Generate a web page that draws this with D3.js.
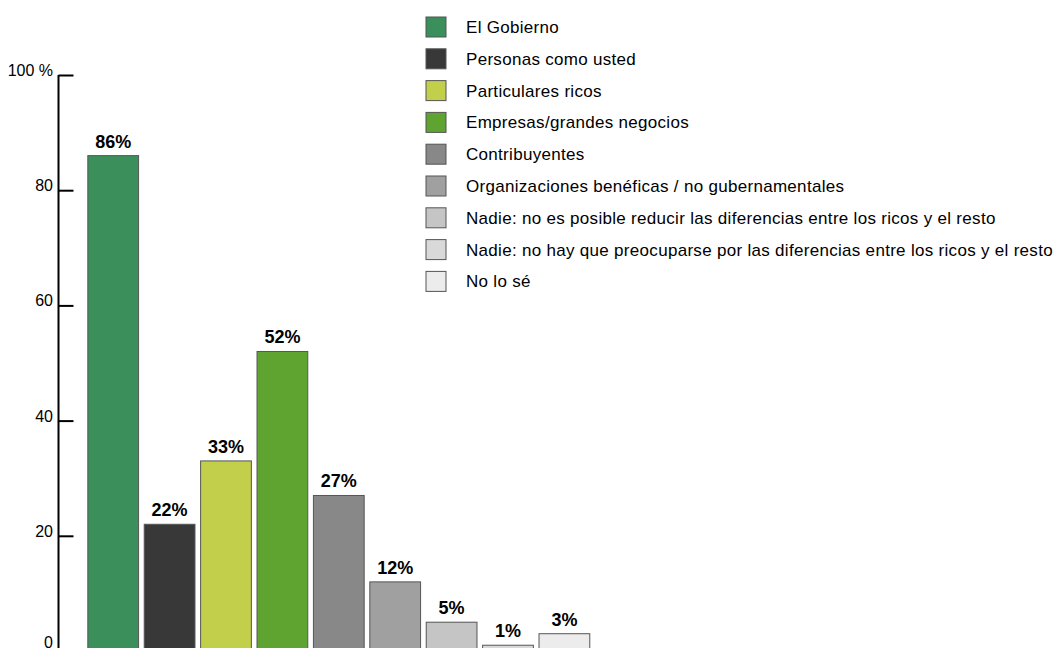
<!DOCTYPE html>
<html>
<head>
<meta charset="utf-8">
<script src="https://cdn.jsdelivr.net/npm/d3@7"></script>
<style>
  body { margin: 0; background: #fff; }
  text { font-family: "Liberation Sans", Arial, sans-serif; }
</style>
</head>
<body>
<svg id="chart" width="1063" height="648"></svg>
<script>
// categorias y valores (%)
var categorias = ["El Gobierno", "Personas como usted", "Particulares ricos",
  "Empresas/grandes negocios", "Contribuyentes",
  "Organizaciones benéficas / no gubernamentales",
  "Nadie: no es posible reducir las diferencias entre los ricos y el resto",
  "Nadie: no hay que preocuparse por las diferencias entre los ricos y el resto",
  "No lo sé"];
var valores = [86, 22, 33, 52, 27, 12, 5, 1, 3];
var colores = ["#3a8f5a", "#383838", "#c2cf4a", "#5fa431", "#888888",
  "#a0a0a0", "#c5c5c5", "#d9d9d9", "#ececec"];
var ticks = [0, 20, 40, 60, 80, 100];

var svg = d3.select("#chart");

var y = d3.scaleLinear().domain([0, 100]).range([651, 75]);
var x = d3.scaleBand().domain(d3.range(valores.length))
  .range([85, 85 + 56.4 * valores.length]).paddingInner(0.1).paddingOuter(0.05);

// eje y, ticks hacia dentro
var eje = svg.append("g").attr("transform", "translate(58.5,0)")
  .call(d3.axisRight(y).tickValues(ticks).tickSize(15).tickFormat(""));
eje.select(".domain").attr("stroke", "#000").attr("stroke-width", 2)
  .attr("d", "M0," + y(100) + "V660");
eje.selectAll(".tick line").attr("stroke", "#000").attr("stroke-width", 2);

svg.selectAll(".ylab").data(ticks).enter().append("text")
  .attr("class", "ylab")
  .attr("x", 53).attr("y", function(d){ return d == 0 ? 648 : y(d) + 1; })
  .attr("text-anchor", "end")
  .style("font-size", "16px")
  .text(function(d){ return d == 100 ? "100 %" : d; });

// barras
svg.selectAll("rect.barra").data(valores).enter().append("rect")
  .attr("class", "barra")
  .attr("x", function(d, i){ return x(i); })
  .attr("y", function(d){ return y(d); })
  .attr("width", x.bandwidth())
  .attr("height", function(d){ return y(0) - y(d); })
  .style("fill", function(d, i){ return colores[i]; })
  .style("stroke", "#555").style("stroke-width", 1);

svg.selectAll("text.valor").data(valores).enter().append("text")
  .attr("class", "valor")
  .attr("x", function(d, i){ return x(i) + x.bandwidth() / 2; })
  .attr("y", function(d){ return y(d) - 8; })
  .attr("text-anchor", "middle")
  .style("font-size", "18px").style("font-weight", "bold")
  .text(function(d){ return d + "%"; });

// leyenda
var ley = svg.selectAll("g.ley").data(categorias).enter().append("g")
  .attr("class", "ley")
  .attr("transform", function(d, i){ return "translate(426," + (17 + i * 31.8) + ")"; });
ley.append("rect").attr("width", 20).attr("height", 20)
  .style("fill", function(d, i){ return colores[i]; })
  .style("stroke", "#555").style("stroke-width", 1);
ley.append("text").attr("x", 40).attr("y", 16)
  .style("font-size", "17px").style("letter-spacing", "0.3px")
  .text(function(d){ return d; });
</script>
</body>
</html>
